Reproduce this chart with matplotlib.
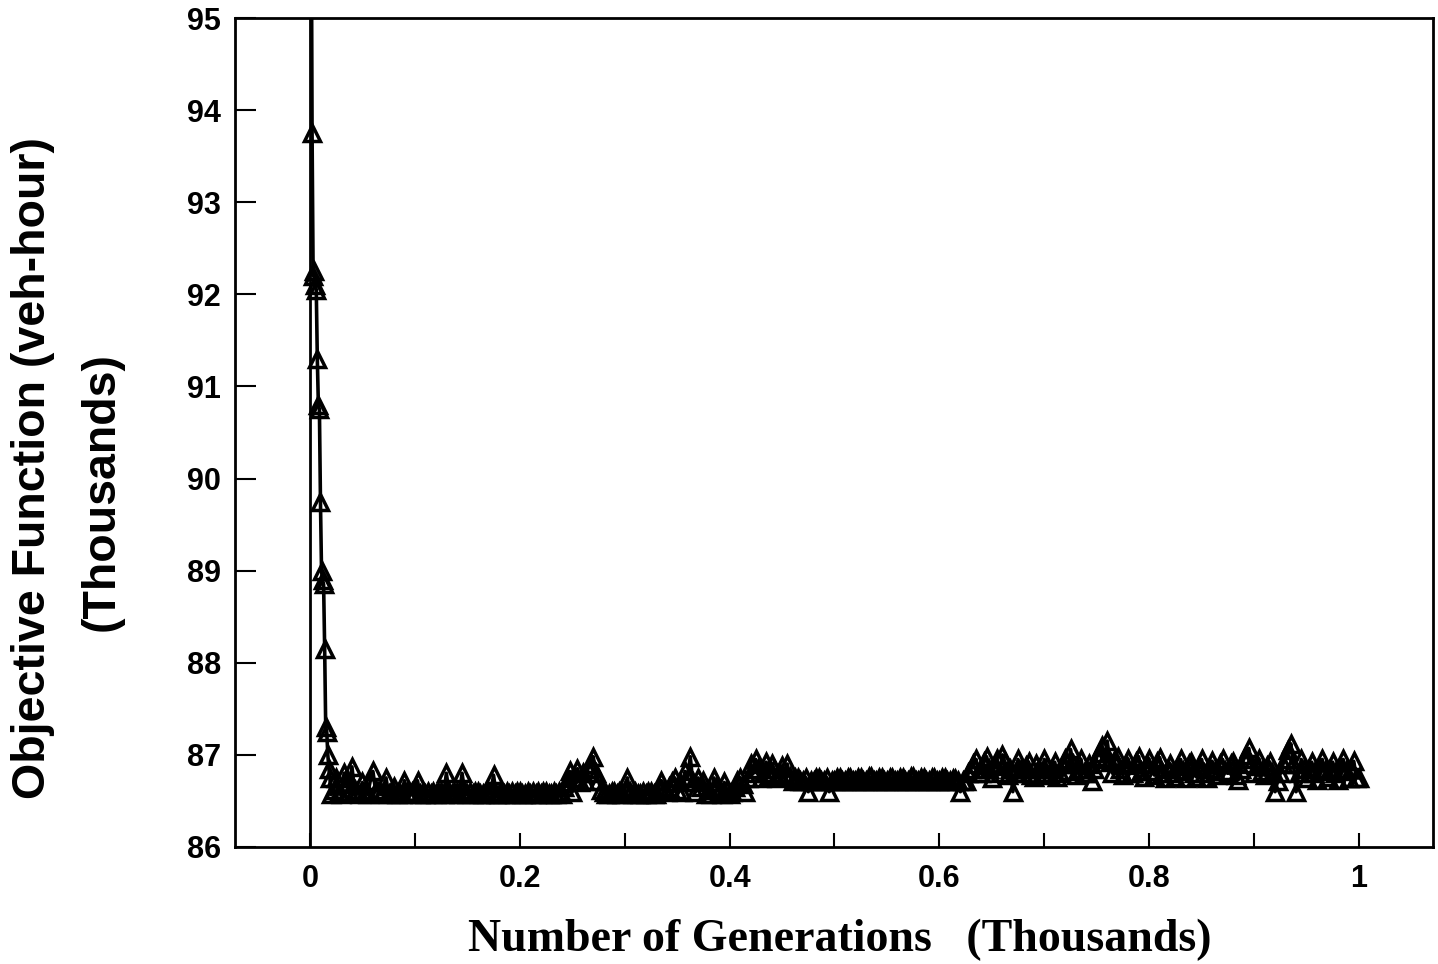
import matplotlib
matplotlib.use("Agg")
import matplotlib.pyplot as plt
from matplotlib.ticker import MultipleLocator, FixedLocator

# ---- data (generations in thousands, objective in thousands veh-hour) ----
spike_x = [0.001, 0.002, 0.003, 0.004, 0.005, 0.006, 0.007, 0.008, 0.009, 0.010,
           0.011, 0.012, 0.013, 0.014, 0.015, 0.016, 0.017, 0.018, 0.019]
spike_y = [97.0, 93.75, 92.2, 92.25, 92.1, 92.05, 91.3, 90.8, 90.75, 89.75,
           89.0, 88.9, 88.85, 88.15, 87.3, 87.25, 87.0, 86.85, 86.75]

band_start = 0.020
band_step = 0.0025
band_y = [
    # 0.020 - 0.0675
    86.57, 86.62, 86.75, 86.60, 86.57, 86.80, 86.68, 86.60, 86.87, 86.62,
    86.60, 86.57, 86.70, 86.60, 86.57, 86.72, 86.82, 86.62, 86.60, 86.57,
    # 0.070 - 0.1175
    86.60, 86.75, 86.57, 86.60, 86.65, 86.57, 86.60, 86.57, 86.72, 86.60,
    86.57, 86.60, 86.60, 86.72, 86.57, 86.60, 86.57, 86.60, 86.57, 86.60,
    # 0.120 - 0.1675
    86.57, 86.60, 86.60, 86.57, 86.80, 86.60, 86.57, 86.60, 86.60, 86.57,
    86.80, 86.60, 86.57, 86.60, 86.57, 86.60, 86.60, 86.57, 86.57, 86.60,
    # 0.170 - 0.2175
    86.57, 86.60, 86.78, 86.57, 86.57, 86.60, 86.57, 86.60, 86.57, 86.60,
    86.57, 86.60, 86.60, 86.57, 86.57, 86.60, 86.57, 86.60, 86.57, 86.60,
    # 0.220 - 0.2675
    86.57, 86.60, 86.60, 86.57, 86.57, 86.60, 86.57, 86.60, 86.57, 86.65,
    86.70, 86.82, 86.60, 86.75, 86.85, 86.70, 86.80, 86.72, 86.85, 86.90,
    # 0.270 - 0.3175
    86.98, 86.80, 86.72, 86.62, 86.60, 86.57, 86.57, 86.60, 86.60, 86.57,
    86.60, 86.57, 86.62, 86.75, 86.60, 86.57, 86.60, 86.57, 86.57, 86.60,
    # 0.320 - 0.3675
    86.57, 86.60, 86.60, 86.57, 86.57, 86.65, 86.72, 86.62, 86.60, 86.65,
    86.70, 86.75, 86.62, 86.70, 86.60, 86.82, 86.75, 86.98, 86.70, 86.60,
    # 0.370 - 0.4175
    86.75, 86.65, 86.72, 86.58, 86.62, 86.58, 86.75, 86.65, 86.60, 86.58,
    86.70, 86.62, 86.58, 86.60, 86.65, 86.72, 86.75, 86.68, 86.60, 86.75,
    # 0.420 - 0.4675
    86.90, 86.80, 86.95, 86.85, 86.75, 86.80, 86.92, 86.78, 86.90, 86.85,
    86.75, 86.80, 86.88, 86.78, 86.90, 86.76, 86.72, 86.75, 86.75, 86.72,
    # 0.470 - 0.5175
    86.72, 86.75, 86.60, 86.72, 86.72, 86.75, 86.75, 86.72, 86.72, 86.75,
    86.60, 86.72, 86.72, 86.75, 86.75, 86.72, 86.72, 86.75, 86.75, 86.72,
    # 0.520 - 0.5675
    86.72, 86.75, 86.75, 86.72, 86.72, 86.76, 86.76, 86.72, 86.72, 86.75,
    86.75, 86.72, 86.72, 86.75, 86.75, 86.72, 86.72, 86.75, 86.75, 86.72,
    # 0.570 - 0.6175
    86.72, 86.76, 86.76, 86.72, 86.72, 86.75, 86.75, 86.72, 86.72, 86.75,
    86.75, 86.72, 86.72, 86.75, 86.75, 86.72, 86.72, 86.74, 86.74, 86.72,
    # 0.620 - 0.6675
    86.60, 86.72, 86.72, 86.80, 86.85, 86.90, 86.95, 86.80, 86.80, 86.92,
    86.98, 86.85, 86.75, 86.88, 86.95, 86.80, 87.00, 86.92, 86.78, 86.85,
    # 0.670 - 0.7175
    86.60, 86.80, 86.95, 86.85, 86.80, 86.88, 86.92, 86.78, 86.76, 86.90,
    86.85, 86.80, 86.95, 86.88, 86.78, 86.85, 86.92, 86.76, 86.80, 86.90,
    # 0.720 - 0.7675
    86.95, 86.82, 87.06, 86.90, 86.78, 86.85, 86.95, 86.80, 86.80, 86.90,
    86.72, 86.85, 86.98, 87.02, 87.10, 86.95, 87.15, 86.92, 86.80, 86.95,
    # 0.770 - 0.8175
    86.98, 86.85, 86.78, 86.90, 86.95, 86.80, 86.80, 86.92, 86.98, 86.82,
    86.76, 86.90, 86.95, 86.82, 86.78, 86.92, 86.97, 86.80, 86.75, 86.85,
    # 0.820 - 0.8675
    86.90, 86.80, 86.76, 86.88, 86.95, 86.82, 86.75, 86.90, 86.92, 86.80,
    86.76, 86.88, 86.95, 86.80, 86.75, 86.85, 86.93, 86.82, 86.78, 86.90,
    # 0.870 - 0.9175
    86.95, 86.82, 86.80, 86.90, 86.92, 86.78, 86.73, 86.85, 86.95, 87.00,
    87.07, 86.90, 86.80, 86.88, 86.95, 86.82, 86.78, 86.88, 86.92, 86.80,
    # 0.920 - 0.9675
    86.60, 86.72, 86.80, 86.90, 86.95, 87.05, 87.12, 86.90, 86.60, 86.80,
    86.95, 86.85, 86.75, 86.85, 86.92, 86.80, 86.73, 86.85, 86.95, 86.82,
    # 0.970 - 1.000
    86.76, 86.85, 86.92, 86.80, 86.73, 86.85, 86.95, 86.82, 86.75, 86.85,
    86.93, 86.75, 86.75,
]
band_x = [round(band_start + i * band_step, 5) for i in range(len(band_y))]

gen = spike_x + band_x
obj = spike_y + band_y

xticks_major = [0, 0.2, 0.4, 0.6, 0.8, 1.0]
xtick_labels = ["0", "0.2", "0.4", "0.6", "0.8", "1"]
yticks = [86, 87, 88, 89, 90, 91, 92, 93, 94, 95]

# ---- figure ----
fig = plt.figure(figsize=(14.38, 9.64), dpi=100)
ax = fig.add_axes([0.1634, 0.1214, 0.8331, 0.8599])

ax.axvline(0, color="black", lw=2.0, zorder=1)
ax.plot(gen, obj, color="black", lw=2.6, marker="^", ms=11.5,
        mfc="none", mec="black", mew=2.5, zorder=3)

ax.set_xlim(-0.0715, 1.0705)
ax.set_ylim(86, 95)

ax.xaxis.set_major_locator(FixedLocator(xticks_major))
ax.set_xticklabels(xtick_labels)
ax.xaxis.set_minor_locator(MultipleLocator(0.1))
ax.set_yticks(yticks)

for lbl in ax.get_xticklabels() + ax.get_yticklabels():
    lbl.set_fontfamily("Liberation Sans")
    lbl.set_fontweight("bold")
    lbl.set_fontsize(22)

ax.tick_params(axis="x", which="both", direction="in", length=10, width=1.5,
               pad=12, top=False)
ax.tick_params(axis="y", which="major", direction="in", length=15, width=1.5,
               pad=10, right=False)
ax.tick_params(axis="y", which="minor", left=False)

for s in ax.spines.values():
    s.set_linewidth(2.0)

fig.text(0.584, 0.025, "Number of Generations   (Thousands)",
         fontfamily="Liberation Serif", fontweight="bold", fontsize=33,
         ha="center", va="center")
fig.text(0.023, 0.515, "Objective Function (veh-hour)",
         fontfamily="Liberation Sans", fontweight="bold", fontsize=33.5,
         rotation=90, ha="center", va="center")
fig.text(0.071, 0.49, "(Thousands)",
         fontfamily="Liberation Sans", fontweight="bold", fontsize=33.5,
         rotation=90, ha="center", va="center")

fig.savefig("out.png", dpi=100)
